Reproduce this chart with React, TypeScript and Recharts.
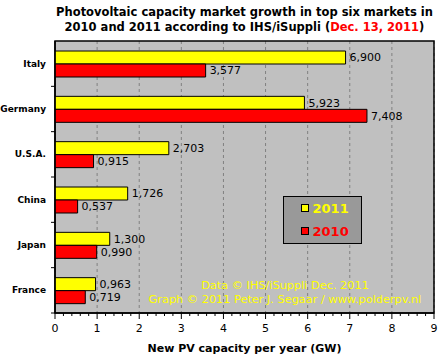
import React from "react";
import {
  BarChart,
  Bar,
  XAxis,
  YAxis,
  CartesianGrid,
  ReferenceArea,
  LabelList,
  Legend,
  Label,
  Customized,
} from "recharts";

const countries = ["Italy", "Germany", "U.S.A.", "China", "Japan", "France"];
const values2011 = [6.9, 5.923, 2.703, 1.726, 1.3, 0.963];
const values2010 = [3.577, 7.408, 0.915, 0.537, 0.99, 0.719];
const majorTicks = [0, 1, 2, 3, 4, 5, 6, 7, 8, 9];
const gridValues = [1, 2, 3, 4, 5, 6, 7, 8];
const minorPerMajor = 5;
const minorTicks: number[] = [];
majorTicks.forEach((t, i) => {
  if (i < majorTicks.length - 1) {
    for (let k = 0; k < minorPerMajor; k++) {
      minorTicks.push(Math.round((t + k / minorPerMajor) * 1000) / 1000);
    }
  } else {
    minorTicks.push(t);
  }
});
const titleLine1 = "Photovoltaic capacity market growth in top six markets in";
const titleLine2a = "2010 and 2011 according to IHS/iSuppli (";
const titleLine2b = "Dec. 13, 2011";
const titleLine2c = ")";
const credit1 = "Data © IHS/iSuppli Dec. 2011";
const credit2 = "Graph © 2011 Peter J. Segaar / www.polderpv.nl";
const xAxisTitle = "New PV capacity per year (GW)";

const data = countries.map((c, i) => ({
  country: c,
  y2011: values2011[i],
  y2010: values2010[i],
}));

const FONT = "DejaVu Sans, Verdana, sans-serif";
const W = 442;
const H = 361;
const M = { top: 41, right: 8, bottom: 0, left: 0 };
const Y_W = 55;
const X_H = 48;
const PLOT_H = H - M.top - M.bottom - X_H;
const BAND = PLOT_H / countries.length;

const fmt = (v: any) => Number(v).toFixed(3).replace(".", ",");

const XTick = (props: any) => {
  const { x, y, payload } = props;
  const v = payload.value;
  const major = Number.isInteger(v);
  return (
    <g>
      <line x1={x} x2={x} y1={y} y2={y + (major ? 6 : 3)} stroke="#000" strokeWidth={1} />
      {major && (
        <text x={x} y={y + 19} textAnchor="middle" fontSize={11} fontFamily={FONT} fill="#000">
          {v}
        </text>
      )}
    </g>
  );
};

const YTick = (props: any) => {
  const { x, y, payload } = props;
  return (
    <g>
      <line x1={x - 4} x2={x} y1={y + BAND / 2} y2={y + BAND / 2} stroke="#000" strokeWidth={1} />
      <text x={x - 9} y={y + 3} textAnchor="end" fontSize={9} fontWeight="bold" fontFamily={FONT} fill="#000">
        {payload.value}
      </text>
    </g>
  );
};

const Annotations = () => (
  <g>
    <text x={244.5} y={16} textAnchor="middle" fontSize={11.5} fontWeight="bold" fontFamily={FONT} fill="#000">
      {titleLine1}
    </text>
    <text x={244.5} y={31} textAnchor="middle" fontSize={11.5} fontWeight="bold" fontFamily={FONT} fill="#000">
      {titleLine2a}
      <tspan fill="#ff0000">{titleLine2b}</tspan>
      {titleLine2c}
    </text>
    <text x={285} y={289} textAnchor="middle" fontSize={11.3} fontFamily={FONT} fill="#ffff00">
      {credit1}
    </text>
    <text x={285} y={303} textAnchor="middle" fontSize={11.3} fontFamily={FONT} fill="#ffff00">
      {credit2}
    </text>
  </g>
);

const LegendBox = (props: any) => {
  const items = [...(props.payload || [])].sort((a: any, b: any) =>
    String(b.value).localeCompare(String(a.value))
  );
  return (
    <div
      style={{
        position: "relative",
        width: 79,
        height: 48,
        boxSizing: "border-box",
        background: "#999999",
        border: "1.5px solid #000",
      }}
    >
      {items.map((e: any, i: number) => (
        <div
          key={e.value}
          style={{
            position: "absolute",
            left: 16.5,
            top: 7.5 + i * 23 - 4,
            height: 15,
            display: "flex",
            alignItems: "center",
          }}
        >
          <span
            style={{
              display: "inline-block",
              width: 8,
              height: 8,
              boxSizing: "border-box",
              background: e.color,
              border: "1px solid #000",
              marginRight: 4,
            }}
          />
          <span
            style={{
              fontFamily: FONT,
              fontWeight: "bold",
              fontSize: 13,
              color: e.color,
              lineHeight: "15px",
            }}
          >
            {e.value}
          </span>
        </div>
      ))}
    </div>
  );
};

export default function App() {
  return (
    <div style={{ position: "absolute", left: 0, top: 0, width: W, height: H, background: "#fff" }}>
      <BarChart
        width={W}
        height={H}
        data={data}
        layout="vertical"
        margin={M}
        barSize={13}
        barGap={0}
      >
        <CartesianGrid
          xAxisId="grid"
          horizontal={false}
          vertical={true}
          fill="#c0c0c0"
          stroke="#808080"
          strokeDasharray="3 3"
        />
        <XAxis
          xAxisId="grid"
          type="number"
          domain={[0, 9]}
          ticks={gridValues}
          interval={0}
          hide
          allowDataOverflow
        />
        <XAxis
          type="number"
          domain={[0, 9]}
          ticks={minorTicks}
          interval={0}
          tickLine={false}
          tickSize={0}
          tickMargin={0}
          tick={<XTick />}
          height={X_H}
          axisLine={{ stroke: "#000", strokeWidth: 1.5 }}
          allowDataOverflow
        >
          <Label
            value={xAxisTitle}
            position="insideBottom"
            offset={9}
            fontSize={11}
            fontWeight="bold"
            fontFamily={FONT}
            fill="#000"
          />
        </XAxis>
        <YAxis
          type="category"
          dataKey="country"
          width={Y_W}
          tickLine={false}
          tickSize={0}
          tickMargin={0}
          tick={<YTick />}
          axisLine={{ stroke: "#000", strokeWidth: 1.5 }}
        />
        <Bar dataKey="y2011" name="2011" fill="#ffff00" stroke="#000" strokeWidth={1} isAnimationActive={false}>
          <LabelList dataKey="y2011" position="right" offset={4} formatter={fmt} fill="#000" fontSize={11} fontFamily={FONT} />
        </Bar>
        <Bar dataKey="y2010" name="2010" fill="#ff0000" stroke="#000" strokeWidth={1} isAnimationActive={false}>
          <LabelList dataKey="y2010" position="right" offset={4} formatter={fmt} fill="#000" fontSize={11} fontFamily={FONT} />
        </Bar>
        <ReferenceArea x1={0} x2={9} fill="none" stroke="#000" strokeWidth={1.5} ifOverflow="visible" />
        <Legend
          layout="vertical"
          align="center"
          verticalAlign="middle"
          content={<LegendBox />}
          wrapperStyle={{ left: 283, top: 196, width: 79, height: 48 }}
        />
        <Customized component={<Annotations />} />
      </BarChart>
    </div>
  );
}
